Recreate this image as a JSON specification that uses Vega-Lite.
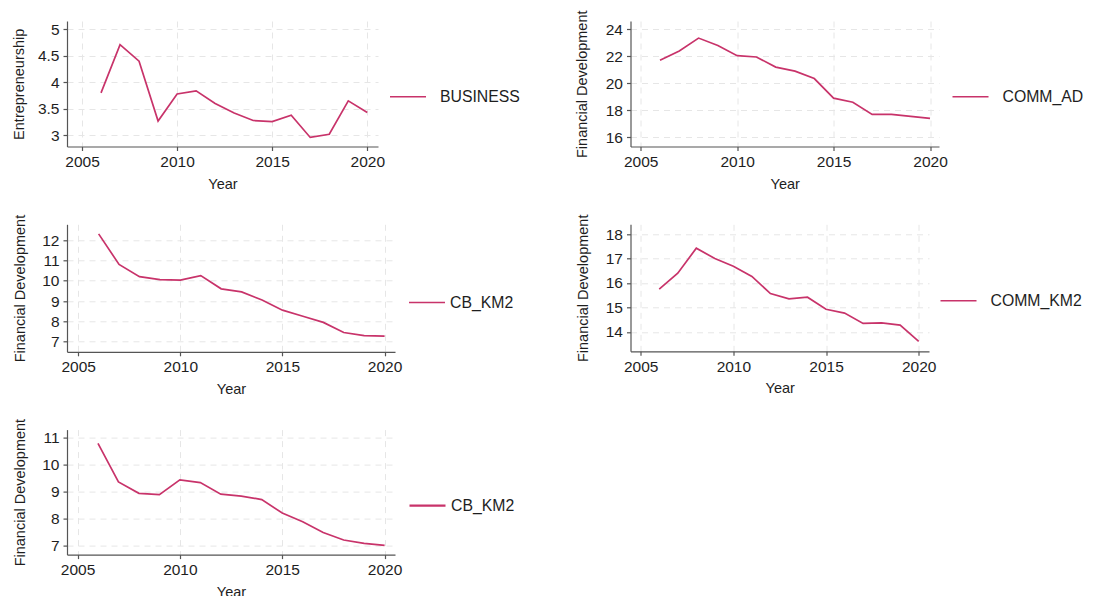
{
  "$schema": "https://vega.github.io/schema/vega-lite/v6.json",
  "padding": {"left": 11, "top": 10, "right": 0, "bottom": 0},
  "background": "white",
  "data": {"values": [
    {"p": 1, "s": "BUSINESS", "year": 2006, "v": 3.80},
    {"p": 1, "s": "BUSINESS", "year": 2007, "v": 4.71},
    {"p": 1, "s": "BUSINESS", "year": 2008, "v": 4.40},
    {"p": 1, "s": "BUSINESS", "year": 2009, "v": 3.27},
    {"p": 1, "s": "BUSINESS", "year": 2010, "v": 3.78},
    {"p": 1, "s": "BUSINESS", "year": 2011, "v": 3.84},
    {"p": 1, "s": "BUSINESS", "year": 2012, "v": 3.60},
    {"p": 1, "s": "BUSINESS", "year": 2013, "v": 3.42},
    {"p": 1, "s": "BUSINESS", "year": 2014, "v": 3.28},
    {"p": 1, "s": "BUSINESS", "year": 2015, "v": 3.26},
    {"p": 1, "s": "BUSINESS", "year": 2016, "v": 3.38},
    {"p": 1, "s": "BUSINESS", "year": 2017, "v": 2.96},
    {"p": 1, "s": "BUSINESS", "year": 2018, "v": 3.02},
    {"p": 1, "s": "BUSINESS", "year": 2019, "v": 3.65},
    {"p": 1, "s": "BUSINESS", "year": 2020, "v": 3.43},
    {"p": 2, "s": "COMM_AD", "year": 2006, "v": 21.7},
    {"p": 2, "s": "COMM_AD", "year": 2007, "v": 22.4},
    {"p": 2, "s": "COMM_AD", "year": 2008, "v": 23.35},
    {"p": 2, "s": "COMM_AD", "year": 2009, "v": 22.8},
    {"p": 2, "s": "COMM_AD", "year": 2010, "v": 22.05},
    {"p": 2, "s": "COMM_AD", "year": 2011, "v": 21.95},
    {"p": 2, "s": "COMM_AD", "year": 2012, "v": 21.2},
    {"p": 2, "s": "COMM_AD", "year": 2013, "v": 20.9},
    {"p": 2, "s": "COMM_AD", "year": 2014, "v": 20.35},
    {"p": 2, "s": "COMM_AD", "year": 2015, "v": 18.9},
    {"p": 2, "s": "COMM_AD", "year": 2016, "v": 18.6},
    {"p": 2, "s": "COMM_AD", "year": 2017, "v": 17.7},
    {"p": 2, "s": "COMM_AD", "year": 2018, "v": 17.7},
    {"p": 2, "s": "COMM_AD", "year": 2019, "v": 17.55},
    {"p": 2, "s": "COMM_AD", "year": 2020, "v": 17.4},
    {"p": 3, "s": "CB_KM2", "year": 2006, "v": 12.3},
    {"p": 3, "s": "CB_KM2", "year": 2007, "v": 10.8},
    {"p": 3, "s": "CB_KM2", "year": 2008, "v": 10.2},
    {"p": 3, "s": "CB_KM2", "year": 2009, "v": 10.05},
    {"p": 3, "s": "CB_KM2", "year": 2010, "v": 10.03},
    {"p": 3, "s": "CB_KM2", "year": 2011, "v": 10.25},
    {"p": 3, "s": "CB_KM2", "year": 2012, "v": 9.6},
    {"p": 3, "s": "CB_KM2", "year": 2013, "v": 9.45},
    {"p": 3, "s": "CB_KM2", "year": 2014, "v": 9.05},
    {"p": 3, "s": "CB_KM2", "year": 2015, "v": 8.55},
    {"p": 3, "s": "CB_KM2", "year": 2016, "v": 8.25},
    {"p": 3, "s": "CB_KM2", "year": 2017, "v": 7.95},
    {"p": 3, "s": "CB_KM2", "year": 2018, "v": 7.45},
    {"p": 3, "s": "CB_KM2", "year": 2019, "v": 7.3},
    {"p": 3, "s": "CB_KM2", "year": 2020, "v": 7.27},
    {"p": 4, "s": "COMM_KM2", "year": 2006, "v": 15.75},
    {"p": 4, "s": "COMM_KM2", "year": 2007, "v": 16.4},
    {"p": 4, "s": "COMM_KM2", "year": 2008, "v": 17.42},
    {"p": 4, "s": "COMM_KM2", "year": 2009, "v": 17.0},
    {"p": 4, "s": "COMM_KM2", "year": 2010, "v": 16.68},
    {"p": 4, "s": "COMM_KM2", "year": 2011, "v": 16.27},
    {"p": 4, "s": "COMM_KM2", "year": 2012, "v": 15.57},
    {"p": 4, "s": "COMM_KM2", "year": 2013, "v": 15.35},
    {"p": 4, "s": "COMM_KM2", "year": 2014, "v": 15.42},
    {"p": 4, "s": "COMM_KM2", "year": 2015, "v": 14.93},
    {"p": 4, "s": "COMM_KM2", "year": 2016, "v": 14.77},
    {"p": 4, "s": "COMM_KM2", "year": 2017, "v": 14.35},
    {"p": 4, "s": "COMM_KM2", "year": 2018, "v": 14.37},
    {"p": 4, "s": "COMM_KM2", "year": 2019, "v": 14.28},
    {"p": 4, "s": "COMM_KM2", "year": 2020, "v": 13.62},
    {"p": 5, "s": "CB_KM2", "year": 2006, "v": 10.8},
    {"p": 5, "s": "CB_KM2", "year": 2007, "v": 9.37},
    {"p": 5, "s": "CB_KM2", "year": 2008, "v": 8.95},
    {"p": 5, "s": "CB_KM2", "year": 2009, "v": 8.9},
    {"p": 5, "s": "CB_KM2", "year": 2010, "v": 9.45},
    {"p": 5, "s": "CB_KM2", "year": 2011, "v": 9.35},
    {"p": 5, "s": "CB_KM2", "year": 2012, "v": 8.92},
    {"p": 5, "s": "CB_KM2", "year": 2013, "v": 8.85},
    {"p": 5, "s": "CB_KM2", "year": 2014, "v": 8.72},
    {"p": 5, "s": "CB_KM2", "year": 2015, "v": 8.22},
    {"p": 5, "s": "CB_KM2", "year": 2016, "v": 7.9},
    {"p": 5, "s": "CB_KM2", "year": 2017, "v": 7.5},
    {"p": 5, "s": "CB_KM2", "year": 2018, "v": 7.22},
    {"p": 5, "s": "CB_KM2", "year": 2019, "v": 7.1},
    {"p": 5, "s": "CB_KM2", "year": 2020, "v": 7.02}
  ]},
  "bounds": "flush",
  "columns": 2,
  "spacing": {"row": 77.3, "column": 235.5},
  "resolve": {"scale": {"x": "independent", "y": "independent", "color": "independent"}, "axis": {"x": "independent", "y": "independent"}, "legend": {"color": "independent"}},
  "concat": [
    {
      "width": 311, "height": 125.5,
      "transform": [{"filter": "datum.p == 1"}],
      "mark": {"type": "line", "strokeWidth": 1.7},
      "encoding": {
        "x": {"field": "year", "type": "quantitative", "scale": {"domain": [2004.211, 2020.563], "nice": false, "zero": false}, "axis": {"values": [2005, 2010, 2015, 2020], "format": "d", "title": "Year"}},
        "y": {"field": "v", "type": "quantitative", "scale": {"domain": [2.789, 5.157], "nice": false, "zero": false}, "axis": {"values": [3, 3.5, 4, 4.5, 5], "format": "~g", "title": "Entrepreneurship", "titleX": -40.5}},
        "color": {"field": "s", "type": "nominal", "scale": {"range": ["#c8336a"]}, "legend": {"orient": "none", "legendX": 322, "legendY": 56.8, "labelOffset": 13}}
      }
    },
    {
      "width": 308.5, "height": 125.5,
      "transform": [{"filter": "datum.p == 2"}],
      "mark": {"type": "line", "strokeWidth": 1.7},
      "encoding": {
        "x": {"field": "year", "type": "quantitative", "scale": {"domain": [2004.471, 2020.466], "nice": false, "zero": false}, "axis": {"values": [2005, 2010, 2015, 2020], "format": "d", "title": "Year"}},
        "y": {"field": "v", "type": "quantitative", "scale": {"domain": [15.319, 24.615], "nice": false, "zero": false}, "axis": {"values": [16, 18, 20, 22, 24], "format": "~g", "title": "Financial Development", "titleX": -41}},
        "color": {"field": "s", "type": "nominal", "scale": {"range": ["#c8336a"]}, "legend": {"orient": "none", "legendX": 321, "legendY": 56.8, "labelOffset": 13}}
      }
    },
    {
      "width": 328, "height": 127.5,
      "transform": [{"filter": "datum.p == 3"}],
      "mark": {"type": "line", "strokeWidth": 1.7},
      "encoding": {
        "x": {"field": "year", "type": "quantitative", "scale": {"domain": [2004.452, 2020.509], "nice": false, "zero": false}, "axis": {"values": [2005, 2010, 2015, 2020], "format": "d", "title": "Year"}},
        "y": {"field": "v", "type": "quantitative", "scale": {"domain": [6.503, 12.772], "nice": false, "zero": false}, "axis": {"values": [7, 8, 9, 10, 11, 12], "format": "~g", "title": "Financial Development", "titleX": -40}},
        "color": {"field": "s", "type": "nominal", "scale": {"range": ["#c8336a"]}, "legend": {"orient": "none", "legendX": 341, "legendY": 59.2, "labelOffset": 4}}
      }
    },
    {
      "width": 298.5, "height": 127,
      "transform": [{"filter": "datum.p == 4"}],
      "mark": {"type": "line", "strokeWidth": 1.7},
      "encoding": {
        "x": {"field": "year", "type": "quantitative", "scale": {"domain": [2004.45, 2020.556], "nice": false, "zero": false}, "axis": {"values": [2005, 2010, 2015, 2020], "format": "d", "title": "Year"}},
        "y": {"field": "v", "type": "quantitative", "scale": {"domain": [13.212, 18.396], "nice": false, "zero": false}, "axis": {"values": [14, 15, 16, 17, 18], "format": "~g", "title": "Financial Development", "titleX": -40.5}},
        "color": {"field": "s", "type": "nominal", "scale": {"range": ["#c8336a"]}, "legend": {"orient": "none", "legendX": 309, "legendY": 57.5, "labelOffset": 13}}
      }
    },
    {
      "width": 328, "height": 125,
      "transform": [{"filter": "datum.p == 5"}],
      "mark": {"type": "line", "strokeWidth": 1.7},
      "encoding": {
        "x": {"field": "year", "type": "quantitative", "scale": {"domain": [2004.487, 2020.508], "nice": false, "zero": false}, "axis": {"values": [2005, 2010, 2015, 2020], "format": "d", "title": "Year"}},
        "y": {"field": "v", "type": "quantitative", "scale": {"domain": [6.681, 11.311], "nice": false, "zero": false}, "axis": {"values": [7, 8, 9, 10, 11], "format": "~g", "title": "Financial Development", "titleX": -40}},
        "color": {"field": "s", "type": "nominal", "scale": {"range": ["#c8336a"]}, "legend": {"orient": "none", "legendX": 341, "legendY": 56.5, "labelOffset": 4, "symbolStrokeWidth": 2.2}}
      }
    }
  ],
  "config": {
    "view": {"stroke": null},
    "font": "Liberation Sans",
    "axis": {
      "labelFont": "Liberation Sans", "labelFontSize": 15.5, "labelColor": "#1e1e1e",
      "titleFont": "Liberation Sans", "titleFontSize": 14.5, "titleFontWeight": "normal", "titleColor": "#1e1e1e",
      "domainColor": "#555555", "domainWidth": 1.2, "tickColor": "#555555", "tickSize": 4, "tickWidth": 1.2,
      "gridColor": "#e6e6e6", "gridDash": [6, 5], "gridWidth": 1,
      "labelPadding": 4, "titlePadding": 7
    },
    "legend": {
      "title": null, "padding": 0, "labelFont": "Liberation Sans", "labelFontSize": 15.8, "labelColor": "#1e1e1e",
      "symbolType": "stroke", "symbolSize": 1296, "symbolStrokeWidth": 1.6, "labelOffset": 13
    }
  }
}
